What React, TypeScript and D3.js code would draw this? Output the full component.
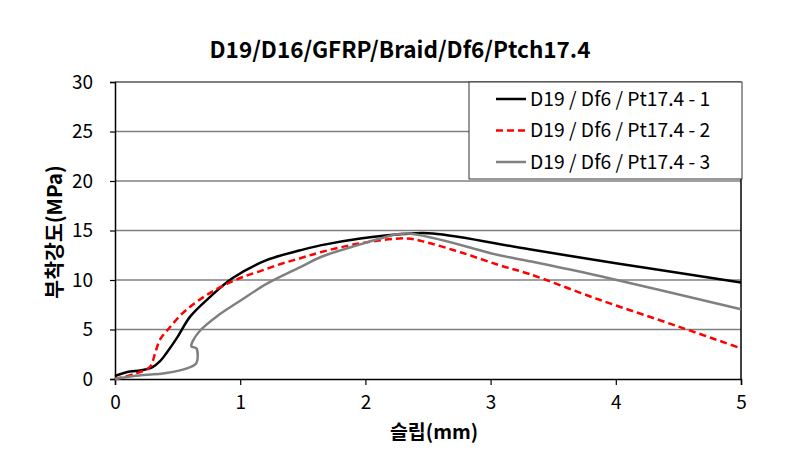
import * as d3 from 'd3';
import { useEffect, useRef } from 'react';

// slip (mm) / bond stress (MPa)
const slip1 = [0, 0.12, 0.2, 0.3, 0.36, 0.41, 0.5, 0.6, 0.76, 0.94, 1.21, 1.48, 1.64, 1.96, 2.3, 2.54, 3.31, 4.0, 5.0];
const stress1 = [0.3, 0.75, 0.85, 1.2, 1.8, 2.6, 4.25, 6.3, 8.3, 10.2, 12.0, 13.0, 13.5, 14.2, 14.65, 14.7, 13.1, 11.7, 9.75];

const slip2 = [0, 0.17, 0.28, 0.32, 0.36, 0.43, 0.52, 0.61, 0.71, 0.8, 0.91, 1.02, 1.16, 1.32, 1.48, 1.64, 1.96, 2.33, 2.49, 2.76, 3.07, 3.31, 3.87, 4.5, 5.0];
const stress2 = [0, 0.57, 1.24, 2.6, 4.0, 5.1, 6.4, 7.4, 8.3, 9.0, 9.7, 10.3, 10.9, 11.6, 12.2, 12.8, 13.7, 14.2, 13.8, 12.8, 11.5, 10.6, 8.0, 5.3, 3.1];

const slip3 = [0, 0.15, 0.41, 0.58, 0.65, 0.65, 0.61, 0.62, 0.68, 0.81, 1.0, 1.21, 1.48, 1.64, 1.96, 2.12, 2.33, 3.07, 3.31, 3.87, 5.0];
const stress3 = [0, 0.3, 0.6, 1.1, 1.6, 3.1, 3.3, 3.8, 4.9, 6.3, 7.9, 9.6, 11.3, 12.3, 13.6, 14.2, 14.7, 12.5, 11.9, 10.4, 7.05];

const seriesNames = ['D19 / Df6 / Pt17.4 - 1', 'D19 / Df6 / Pt17.4 - 2', 'D19 / Df6 / Pt17.4 - 3'];
const xTicks = [0, 1, 2, 3, 4, 5];
const yTicks = [0, 5, 10, 15, 20, 25, 30];

const title = 'D19/D16/GFRP/Braid/Df6/Ptch17.4';
const xTitle = '슬립(mm)';
const yTitle = '부착강도(MPa)';

const font = '"Noto Sans CJK KR", "Noto Sans", sans-serif';

export default function App() {
  const svgRef = useRef<SVGSVGElement>(null);

  useEffect(() => {
    if (!svgRef.current) return;
    const svg = d3.select(svgRef.current);
    svg.selectAll('*').remove();

    const width = 803;
    const height = 453;
    const margin = { top: 82, right: 62, bottom: 74, left: 115 };
    const innerW = width - margin.left - margin.right;
    const innerH = height - margin.top - margin.bottom;

    const x = d3.scaleLinear().domain([0, 5]).range([0, innerW]);
    const y = d3.scaleLinear().domain([0, 30]).range([innerH, 0]);

    svg.append('rect').attr('width', width).attr('height', height).attr('fill', '#fff');

    const g = svg.append('g').attr('transform', `translate(${margin.left},${margin.top})`);

    // gridlines
    g.selectAll('.grid')
      .data(yTicks.filter((t) => t > 0))
      .enter()
      .append('line')
      .attr('x1', 0)
      .attr('x2', innerW)
      .attr('y1', (d) => y(d))
      .attr('y2', (d) => y(d))
      .attr('stroke', '#808080')
      .attr('stroke-width', (d) => (d === 30 ? 2 : 1.3));

    // right border
    g.append('line')
      .attr('x1', innerW)
      .attr('x2', innerW)
      .attr('y1', 0)
      .attr('y2', innerH)
      .attr('stroke', '#000')
      .attr('stroke-width', 1.5);

    // x axis
    g.append('g')
      .attr('transform', `translate(0,${innerH})`)
      .call(d3.axisBottom(x).tickValues(xTicks).tickSize(6).tickPadding(11).tickFormat((d) => String(d)))
      .call((a) => a.select('.domain').attr('stroke', '#000').attr('stroke-width', 1.5))
      .call((a) => a.selectAll('.tick line').attr('stroke', '#000').attr('stroke-width', 1.2))
      .call((a) =>
        a
          .selectAll('.tick text')
          .attr('fill', '#000')
          .style('font-size', '19px')
          .style('font-family', font)
      );

    // y axis
    g.append('g')
      .call(d3.axisLeft(y).tickValues(yTicks).tickSize(5).tickPadding(17).tickFormat((d) => String(d)))
      .call((a) => a.select('.domain').attr('stroke', '#000').attr('stroke-width', 1.5))
      .call((a) => a.selectAll('.tick line').attr('stroke', '#000').attr('stroke-width', 1.2))
      .call((a) =>
        a
          .selectAll('.tick text')
          .attr('fill', '#000')
          .style('font-size', '19px')
          .style('font-family', font)
      );

    const series = [
      { xs: slip1, ys: stress1, color: '#000000', dash: null as string | null },
      { xs: slip2, ys: stress2, color: '#ff0000', dash: '7,4' },
      { xs: slip3, ys: stress3, color: '#808080', dash: null },
    ];

    const line = d3
      .line<[number, number]>()
      .x((d) => x(d[0]))
      .y((d) => y(d[1]))
      .curve(d3.curveCatmullRom.alpha(0.5));

    series.forEach((s) => {
      const pts = s.xs.map((v, i) => [v, s.ys[i]] as [number, number]);
      g.append('path')
        .datum(pts)
        .attr('fill', 'none')
        .attr('stroke', s.color)
        .attr('stroke-width', 2.5)
        .attr('stroke-linejoin', 'round')
        .attr('stroke-dasharray', s.dash)
        .attr('d', line);
    });

    // legend
    const lg = svg.append('g').attr('transform', 'translate(469,82)');
    lg.append('rect')
      .attr('width', 273)
      .attr('height', 97)
      .attr('fill', '#fff')
      .attr('stroke', '#333')
      .attr('stroke-width', 1);
    series.forEach((s, i) => {
      const yy = 17 + i * 31.5;
      lg.append('line')
        .attr('x1', 27)
        .attr('x2', 57)
        .attr('y1', yy)
        .attr('y2', yy)
        .attr('stroke', s.color)
        .attr('stroke-width', 2.5)
        .attr('stroke-dasharray', s.dash);
      lg.append('text')
        .attr('x', 61)
        .attr('y', yy)
        .attr('dy', '0.35em')
        .attr('font-size', 19.3)
        .attr('font-family', font)
        .attr('fill', '#000')
        .text(seriesNames[i]);
    });

    // titles
    svg.append('text')
      .attr('x', 400)
      .attr('y', 50)
      .attr('text-anchor', 'middle')
      .attr('dy', '0.35em')
      .attr('font-size', 22.5)
      .attr('font-weight', 'bold')
      .attr('font-family', font)
      .text(title);

    svg.append('text')
      .attr('x', 434)
      .attr('y', 432)
      .attr('text-anchor', 'middle')
      .attr('dy', '0.35em')
      .attr('font-size', 19.5)
      .attr('font-weight', 'bold')
      .attr('font-family', font)
      .text(xTitle);

    svg.append('text')
      .attr('transform', 'translate(55,232) rotate(-90)')
      .attr('text-anchor', 'middle')
      .attr('dy', '0.35em')
      .attr('font-size', 20.5)
      .attr('font-weight', 'bold')
      .attr('font-family', font)
      .text(yTitle);
  }, []);

  return (
    <svg
      ref={svgRef}
      width={803}
      height={453}
      style={{ position: 'absolute', left: 0, top: 0, display: 'block' }}
    />
  );
}
